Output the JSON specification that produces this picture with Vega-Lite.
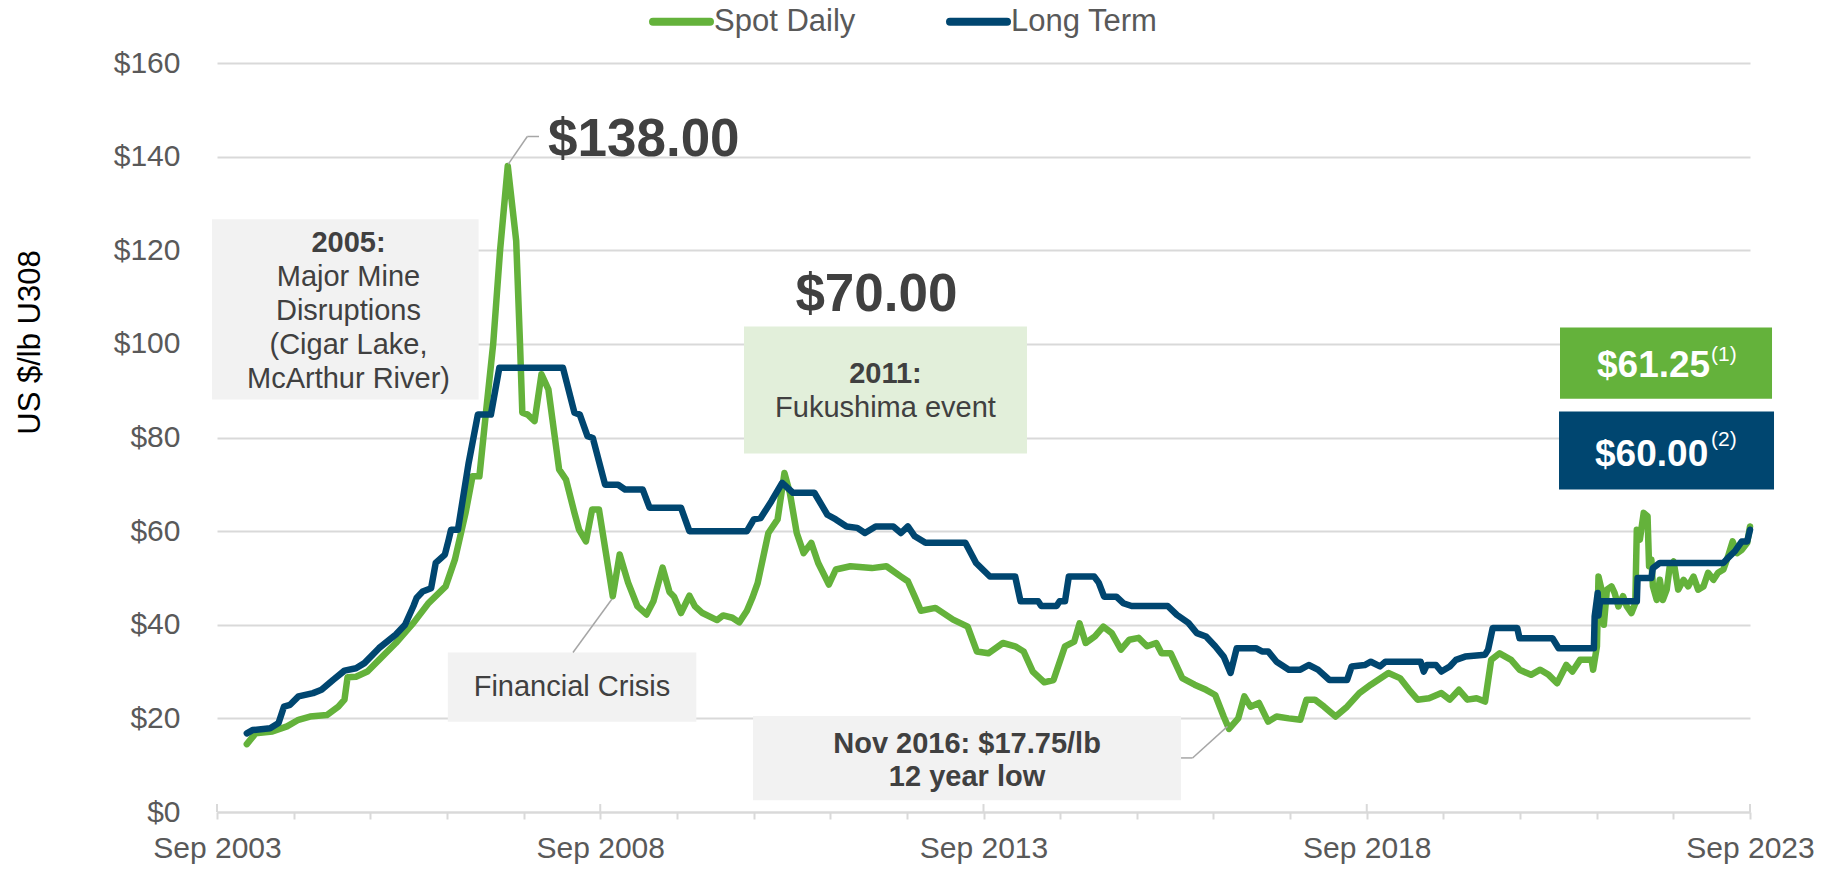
{
"$schema": "https://vega.github.io/schema/vega-lite/v6.json",
"width": 1533, "height": 749,
"autosize": {"type": "none"},
"padding": {"left": 217, "top": 63, "right": 73, "bottom": 57},
"background": "white",
"config": {"view": {"stroke": null}, "font": "Liberation Sans"},
"datasets": {
"prices": [
{"series":"Spot Daily","year":2004.056,"price":14.5},{"series":"Spot Daily","year":2004.17,"price":16.8},{"series":"Spot Daily","year":2004.39,"price":17.2},{"series":"Spot Daily","year":2004.58,"price":18.3},{"series":"Spot Daily","year":2004.73,"price":19.7},{"series":"Spot Daily","year":2004.88,"price":20.4},{"series":"Spot Daily","year":2005.1,"price":20.7},{"series":"Spot Daily","year":2005.25,"price":22.5},{"series":"Spot Daily","year":2005.33,"price":24.0},{"series":"Spot Daily","year":2005.37,"price":28.8},{"series":"Spot Daily","year":2005.48,"price":28.9},{"series":"Spot Daily","year":2005.63,"price":30.0},{"series":"Spot Daily","year":2005.78,"price":32.5},{"series":"Spot Daily","year":2006.0,"price":36.1},{"series":"Spot Daily","year":2006.23,"price":40.4},{"series":"Spot Daily","year":2006.42,"price":44.5},{"series":"Spot Daily","year":2006.65,"price":48.2},{"series":"Spot Daily","year":2006.77,"price":53.9},{"series":"Spot Daily","year":2006.91,"price":63.9},{"series":"Spot Daily","year":2007.0,"price":71.7},{"series":"Spot Daily","year":2007.09,"price":71.7},{"series":"Spot Daily","year":2007.18,"price":86.0},{"series":"Spot Daily","year":2007.27,"price":100.0},{"series":"Spot Daily","year":2007.36,"price":120.0},{"series":"Spot Daily","year":2007.46,"price":138.0},{"series":"Spot Daily","year":2007.57,"price":122.0},{"series":"Spot Daily","year":2007.62,"price":100.0},{"series":"Spot Daily","year":2007.65,"price":85.3},{"series":"Spot Daily","year":2007.72,"price":84.9},{"series":"Spot Daily","year":2007.81,"price":83.5},{"series":"Spot Daily","year":2007.9,"price":93.5},{"series":"Spot Daily","year":2007.99,"price":90.3},{"series":"Spot Daily","year":2008.13,"price":73.2},{"series":"Spot Daily","year":2008.22,"price":71.0},{"series":"Spot Daily","year":2008.33,"price":63.9},{"series":"Spot Daily","year":2008.39,"price":60.3},{"series":"Spot Daily","year":2008.48,"price":57.8},{"series":"Spot Daily","year":2008.56,"price":64.6},{"series":"Spot Daily","year":2008.65,"price":64.6},{"series":"Spot Daily","year":2008.74,"price":55.4},{"series":"Spot Daily","year":2008.83,"price":46.1},{"series":"Spot Daily","year":2008.92,"price":55.0},{"series":"Spot Daily","year":2009.03,"price":49.0},{"series":"Spot Daily","year":2009.15,"price":44.0},{"series":"Spot Daily","year":2009.27,"price":42.2},{"series":"Spot Daily","year":2009.36,"price":45.0},{"series":"Spot Daily","year":2009.48,"price":52.2},{"series":"Spot Daily","year":2009.57,"price":47.0},{"series":"Spot Daily","year":2009.63,"price":46.0},{"series":"Spot Daily","year":2009.72,"price":42.5},{"series":"Spot Daily","year":2009.83,"price":46.2},{"series":"Spot Daily","year":2009.9,"price":44.0},{"series":"Spot Daily","year":2010.0,"price":42.5},{"series":"Spot Daily","year":2010.19,"price":41.0},{"series":"Spot Daily","year":2010.27,"price":42.0},{"series":"Spot Daily","year":2010.39,"price":41.5},{"series":"Spot Daily","year":2010.48,"price":40.5},{"series":"Spot Daily","year":2010.58,"price":43.0},{"series":"Spot Daily","year":2010.65,"price":45.7},{"series":"Spot Daily","year":2010.72,"price":48.9},{"series":"Spot Daily","year":2010.86,"price":59.6},{"series":"Spot Daily","year":2010.98,"price":62.5},{"series":"Spot Daily","year":2011.07,"price":72.4},{"series":"Spot Daily","year":2011.14,"price":68.2},{"series":"Spot Daily","year":2011.23,"price":59.6},{"series":"Spot Daily","year":2011.32,"price":55.3},{"series":"Spot Daily","year":2011.42,"price":57.5},{"series":"Spot Daily","year":2011.51,"price":53.2},{"series":"Spot Daily","year":2011.65,"price":48.6},{"series":"Spot Daily","year":2011.74,"price":51.8},{"series":"Spot Daily","year":2011.93,"price":52.5},{"series":"Spot Daily","year":2012.21,"price":52.1},{"series":"Spot Daily","year":2012.4,"price":52.5},{"series":"Spot Daily","year":2012.59,"price":50.3},{"series":"Spot Daily","year":2012.68,"price":49.3},{"series":"Spot Daily","year":2012.77,"price":46.0},{"series":"Spot Daily","year":2012.85,"price":43.0},{"series":"Spot Daily","year":2013.04,"price":43.6},{"series":"Spot Daily","year":2013.27,"price":41.1},{"series":"Spot Daily","year":2013.46,"price":39.6},{"series":"Spot Daily","year":2013.58,"price":34.3},{"series":"Spot Daily","year":2013.73,"price":33.9},{"series":"Spot Daily","year":2013.92,"price":36.1},{"series":"Spot Daily","year":2014.08,"price":35.4},{"series":"Spot Daily","year":2014.19,"price":34.3},{"series":"Spot Daily","year":2014.31,"price":30.0},{"series":"Spot Daily","year":2014.46,"price":27.7},{"series":"Spot Daily","year":2014.58,"price":28.2},{"series":"Spot Daily","year":2014.73,"price":35.4},{"series":"Spot Daily","year":2014.85,"price":36.4},{"series":"Spot Daily","year":2014.92,"price":40.3},{"series":"Spot Daily","year":2015.0,"price":36.1},{"series":"Spot Daily","year":2015.12,"price":37.5},{"series":"Spot Daily","year":2015.23,"price":39.6},{"series":"Spot Daily","year":2015.34,"price":38.2},{"series":"Spot Daily","year":2015.46,"price":34.7},{"series":"Spot Daily","year":2015.57,"price":36.8},{"series":"Spot Daily","year":2015.69,"price":37.2},{"series":"Spot Daily","year":2015.8,"price":35.4},{"series":"Spot Daily","year":2015.92,"price":36.1},{"series":"Spot Daily","year":2015.99,"price":33.9},{"series":"Spot Daily","year":2016.11,"price":33.9},{"series":"Spot Daily","year":2016.26,"price":28.6},{"series":"Spot Daily","year":2016.42,"price":27.2},{"series":"Spot Daily","year":2016.57,"price":26.1},{"series":"Spot Daily","year":2016.69,"price":25.0},{"series":"Spot Daily","year":2016.8,"price":20.4},{"series":"Spot Daily","year":2016.87,"price":17.75},{"series":"Spot Daily","year":2016.99,"price":20.0},{"series":"Spot Daily","year":2017.07,"price":24.7},{"series":"Spot Daily","year":2017.15,"price":22.5},{"series":"Spot Daily","year":2017.26,"price":23.3},{"series":"Spot Daily","year":2017.38,"price":19.3},{"series":"Spot Daily","year":2017.49,"price":20.4},{"series":"Spot Daily","year":2017.65,"price":20.0},{"series":"Spot Daily","year":2017.8,"price":19.7},{"series":"Spot Daily","year":2017.88,"price":24.0},{"series":"Spot Daily","year":2017.99,"price":24.0},{"series":"Spot Daily","year":2018.11,"price":22.5},{"series":"Spot Daily","year":2018.26,"price":20.4},{"series":"Spot Daily","year":2018.41,"price":22.5},{"series":"Spot Daily","year":2018.57,"price":25.4},{"series":"Spot Daily","year":2018.72,"price":27.2},{"series":"Spot Daily","year":2018.95,"price":29.7},{"series":"Spot Daily","year":2019.1,"price":28.6},{"series":"Spot Daily","year":2019.22,"price":26.1},{"series":"Spot Daily","year":2019.33,"price":24.0},{"series":"Spot Daily","year":2019.48,"price":24.3},{"series":"Spot Daily","year":2019.64,"price":25.4},{"series":"Spot Daily","year":2019.75,"price":24.0},{"series":"Spot Daily","year":2019.87,"price":26.1},{"series":"Spot Daily","year":2019.98,"price":24.0},{"series":"Spot Daily","year":2020.1,"price":24.3},{"series":"Spot Daily","year":2020.21,"price":23.6},{"series":"Spot Daily","year":2020.29,"price":32.5},{"series":"Spot Daily","year":2020.4,"price":33.9},{"series":"Spot Daily","year":2020.55,"price":32.5},{"series":"Spot Daily","year":2020.66,"price":30.4},{"series":"Spot Daily","year":2020.81,"price":29.3},{"series":"Spot Daily","year":2020.93,"price":30.4},{"series":"Spot Daily","year":2021.04,"price":29.3},{"series":"Spot Daily","year":2021.15,"price":27.5},{"series":"Spot Daily","year":2021.27,"price":31.4},{"series":"Spot Daily","year":2021.35,"price":30.0},{"series":"Spot Daily","year":2021.45,"price":32.5},{"series":"Spot Daily","year":2021.6,"price":32.5},{"series":"Spot Daily","year":2021.62,"price":30.4},{"series":"Spot Daily","year":2021.67,"price":35.4},{"series":"Spot Daily","year":2021.69,"price":50.3},{"series":"Spot Daily","year":2021.73,"price":47.5},{"series":"Spot Daily","year":2021.76,"price":40.0},{"series":"Spot Daily","year":2021.8,"price":47.5},{"series":"Spot Daily","year":2021.86,"price":48.2},{"series":"Spot Daily","year":2021.9,"price":46.8},{"series":"Spot Daily","year":2021.95,"price":43.9},{"series":"Spot Daily","year":2022.01,"price":46.1},{"series":"Spot Daily","year":2022.06,"price":43.9},{"series":"Spot Daily","year":2022.12,"price":42.5},{"series":"Spot Daily","year":2022.17,"price":44.6},{"series":"Spot Daily","year":2022.19,"price":60.3},{"series":"Spot Daily","year":2022.23,"price":58.2},{"series":"Spot Daily","year":2022.28,"price":63.9},{"series":"Spot Daily","year":2022.33,"price":63.2},{"series":"Spot Daily","year":2022.35,"price":52.5},{"series":"Spot Daily","year":2022.38,"price":53.9},{"series":"Spot Daily","year":2022.4,"price":48.2},{"series":"Spot Daily","year":2022.45,"price":45.3},{"series":"Spot Daily","year":2022.49,"price":49.6},{"series":"Spot Daily","year":2022.53,"price":45.3},{"series":"Spot Daily","year":2022.58,"price":47.5},{"series":"Spot Daily","year":2022.62,"price":52.5},{"series":"Spot Daily","year":2022.67,"price":53.5},{"series":"Spot Daily","year":2022.73,"price":47.5},{"series":"Spot Daily","year":2022.8,"price":49.6},{"series":"Spot Daily","year":2022.86,"price":48.2},{"series":"Spot Daily","year":2022.93,"price":50.3},{"series":"Spot Daily","year":2022.99,"price":47.5},{"series":"Spot Daily","year":2023.06,"price":48.2},{"series":"Spot Daily","year":2023.12,"price":51.1},{"series":"Spot Daily","year":2023.19,"price":49.6},{"series":"Spot Daily","year":2023.25,"price":51.1},{"series":"Spot Daily","year":2023.32,"price":51.8},{"series":"Spot Daily","year":2023.38,"price":54.6},{"series":"Spot Daily","year":2023.44,"price":57.8},{"series":"Spot Daily","year":2023.5,"price":55.3},{"series":"Spot Daily","year":2023.56,"price":56.0},{"series":"Spot Daily","year":2023.63,"price":57.5},{"series":"Spot Daily","year":2023.667,"price":61.0},
{"series":"Long Term","year":2004.056,"price":16.8},{"series":"Long Term","year":2004.13,"price":17.5},{"series":"Long Term","year":2004.36,"price":17.9},{"series":"Long Term","year":2004.47,"price":19.0},{"series":"Long Term","year":2004.54,"price":22.5},{"series":"Long Term","year":2004.62,"price":22.9},{"series":"Long Term","year":2004.73,"price":24.7},{"series":"Long Term","year":2004.92,"price":25.4},{"series":"Long Term","year":2005.03,"price":26.1},{"series":"Long Term","year":2005.18,"price":28.2},{"series":"Long Term","year":2005.33,"price":30.2},{"series":"Long Term","year":2005.48,"price":30.7},{"series":"Long Term","year":2005.59,"price":31.8},{"series":"Long Term","year":2005.78,"price":35.0},{"series":"Long Term","year":2006.0,"price":37.9},{"series":"Long Term","year":2006.12,"price":40.0},{"series":"Long Term","year":2006.23,"price":44.0},{"series":"Long Term","year":2006.27,"price":45.7},{"series":"Long Term","year":2006.35,"price":47.1},{"series":"Long Term","year":2006.46,"price":47.8},{"series":"Long Term","year":2006.52,"price":53.2},{"series":"Long Term","year":2006.64,"price":55.0},{"series":"Long Term","year":2006.69,"price":58.2},{"series":"Long Term","year":2006.72,"price":60.3},{"series":"Long Term","year":2006.81,"price":60.3},{"series":"Long Term","year":2006.95,"price":74.6},{"series":"Long Term","year":2007.07,"price":84.9},{"series":"Long Term","year":2007.24,"price":84.9},{"series":"Long Term","year":2007.35,"price":94.9},{"series":"Long Term","year":2008.18,"price":94.9},{"series":"Long Term","year":2008.33,"price":85.3},{"series":"Long Term","year":2008.4,"price":84.9},{"series":"Long Term","year":2008.5,"price":80.3},{"series":"Long Term","year":2008.57,"price":79.9},{"series":"Long Term","year":2008.73,"price":69.9},{"series":"Long Term","year":2008.9,"price":69.9},{"series":"Long Term","year":2008.99,"price":68.9},{"series":"Long Term","year":2009.22,"price":68.9},{"series":"Long Term","year":2009.31,"price":65.0},{"series":"Long Term","year":2009.72,"price":65.0},{"series":"Long Term","year":2009.83,"price":60.0},{"series":"Long Term","year":2010.58,"price":60.0},{"series":"Long Term","year":2010.67,"price":62.5},{"series":"Long Term","year":2010.76,"price":62.8},{"series":"Long Term","year":2010.9,"price":66.4},{"series":"Long Term","year":2011.04,"price":70.3},{"series":"Long Term","year":2011.18,"price":68.2},{"series":"Long Term","year":2011.46,"price":68.2},{"series":"Long Term","year":2011.63,"price":63.5},{"series":"Long Term","year":2011.74,"price":62.5},{"series":"Long Term","year":2011.88,"price":61.0},{"series":"Long Term","year":2012.02,"price":60.7},{"series":"Long Term","year":2012.12,"price":59.6},{"series":"Long Term","year":2012.26,"price":61.0},{"series":"Long Term","year":2012.49,"price":61.0},{"series":"Long Term","year":2012.59,"price":59.6},{"series":"Long Term","year":2012.68,"price":61.0},{"series":"Long Term","year":2012.77,"price":58.9},{"series":"Long Term","year":2012.91,"price":57.5},{"series":"Long Term","year":2013.43,"price":57.5},{"series":"Long Term","year":2013.57,"price":53.2},{"series":"Long Term","year":2013.75,"price":50.3},{"series":"Long Term","year":2014.08,"price":50.3},{"series":"Long Term","year":2014.15,"price":45.0},{"series":"Long Term","year":2014.38,"price":45.0},{"series":"Long Term","year":2014.42,"price":44.0},{"series":"Long Term","year":2014.62,"price":44.0},{"series":"Long Term","year":2014.66,"price":45.0},{"series":"Long Term","year":2014.73,"price":45.0},{"series":"Long Term","year":2014.78,"price":50.3},{"series":"Long Term","year":2015.11,"price":50.3},{"series":"Long Term","year":2015.17,"price":49.0},{"series":"Long Term","year":2015.24,"price":46.0},{"series":"Long Term","year":2015.4,"price":46.0},{"series":"Long Term","year":2015.49,"price":44.6},{"series":"Long Term","year":2015.6,"price":44.0},{"series":"Long Term","year":2016.07,"price":44.0},{"series":"Long Term","year":2016.19,"price":42.1},{"series":"Long Term","year":2016.34,"price":40.4},{"series":"Long Term","year":2016.45,"price":38.2},{"series":"Long Term","year":2016.57,"price":37.5},{"series":"Long Term","year":2016.69,"price":35.4},{"series":"Long Term","year":2016.8,"price":33.2},{"series":"Long Term","year":2016.89,"price":29.7},{"series":"Long Term","year":2016.97,"price":35.0},{"series":"Long Term","year":2017.22,"price":35.0},{"series":"Long Term","year":2017.3,"price":34.3},{"series":"Long Term","year":2017.38,"price":34.3},{"series":"Long Term","year":2017.49,"price":32.1},{"series":"Long Term","year":2017.65,"price":30.4},{"series":"Long Term","year":2017.8,"price":30.4},{"series":"Long Term","year":2017.91,"price":31.4},{"series":"Long Term","year":2018.03,"price":30.4},{"series":"Long Term","year":2018.18,"price":28.2},{"series":"Long Term","year":2018.41,"price":28.2},{"series":"Long Term","year":2018.47,"price":31.1},{"series":"Long Term","year":2018.64,"price":31.4},{"series":"Long Term","year":2018.72,"price":32.1},{"series":"Long Term","year":2018.84,"price":31.1},{"series":"Long Term","year":2018.91,"price":32.1},{"series":"Long Term","year":2019.37,"price":32.1},{"series":"Long Term","year":2019.41,"price":30.0},{"series":"Long Term","year":2019.45,"price":31.4},{"series":"Long Term","year":2019.57,"price":31.4},{"series":"Long Term","year":2019.64,"price":30.0},{"series":"Long Term","year":2019.75,"price":31.1},{"series":"Long Term","year":2019.83,"price":32.5},{"series":"Long Term","year":2019.95,"price":33.2},{"series":"Long Term","year":2020.21,"price":33.6},{"series":"Long Term","year":2020.25,"price":34.7},{"series":"Long Term","year":2020.31,"price":39.3},{"series":"Long Term","year":2020.63,"price":39.3},{"series":"Long Term","year":2020.66,"price":37.1},{"series":"Long Term","year":2021.09,"price":37.1},{"series":"Long Term","year":2021.17,"price":35.0},{"series":"Long Term","year":2021.63,"price":35.0},{"series":"Long Term","year":2021.64,"price":41.8},{"series":"Long Term","year":2021.68,"price":46.8},{"series":"Long Term","year":2021.69,"price":42.0},{"series":"Long Term","year":2021.71,"price":45.0},{"series":"Long Term","year":2022.19,"price":45.0},{"series":"Long Term","year":2022.2,"price":50.0},{"series":"Long Term","year":2022.38,"price":50.0},{"series":"Long Term","year":2022.4,"price":52.1},{"series":"Long Term","year":2022.49,"price":53.2},{"series":"Long Term","year":2023.32,"price":53.2},{"series":"Long Term","year":2023.38,"price":54.3},{"series":"Long Term","year":2023.47,"price":55.7},{"series":"Long Term","year":2023.56,"price":57.8},{"series":"Long Term","year":2023.63,"price":57.8},{"series":"Long Term","year":2023.667,"price":60.3}
]
},
"layer": [
{
"data": {"name": "prices"},
"mark": {"type": "line", "strokeWidth": 6.5, "strokeJoin": "round", "strokeCap": "round"},
"encoding": {
"x": {"field": "year", "type": "quantitative",
"scale": {"domain": [2003.6667, 2023.6667], "nice": false, "zero": false},
"axis": {"title": null, "values": [2003.6667,2004.6667,2005.6667,2006.6667,2007.6667,2008.6667,2009.6667,2010.6667,2011.6667,2012.6667,2013.6667,2014.6667,2015.6667,2016.6667,2017.6667,2018.6667,2019.6667,2020.6667,2021.6667,2022.6667,2023.6667],
"labelExpr": "indexof([2003,2008,2013,2018,2023], floor(datum.value)) >= 0 ? 'Sep ' + floor(datum.value) : ''",
"grid": false, "domainColor": "#d9d9d9", "domainWidth": 2, "tickColor": "#d9d9d9", "tickWidth": 2, "tickSize": 7,
"labelFont": "Liberation Sans", "labelFontSize": 30, "labelColor": "#595959", "labelPadding": 14, "labelFlush": false, "labelOverlap": false}},
"y": {"field": "price", "type": "quantitative",
"scale": {"domain": [0, 160], "nice": false},
"axis": {"title": "US $/lb U308", "values": [0,20,40,60,80,100,120,140,160], "labelExpr": "'$' + datum.value",
"domain": false, "ticks": false, "gridColor": "#d9d9d9", "gridWidth": 2,
"labelFont": "Liberation Sans", "labelFontSize": 30, "labelColor": "#595959", "labelPadding": 37,
"titleFont": "Liberation Sans", "titleFontSize": 31, "titleColor": "#000000", "titleFontWeight": "normal",
"titleX": -187, "titleY": 279, "titleBaseline": "middle", "titleAlign": "center", "titleAngle": -90}},
"color": {"field": "series", "type": "nominal",
"scale": {"domain": ["Spot Daily", "Long Term"], "range": ["#64b23b", "#004670"]},
"legend": {"title": null, "orient": "none", "legendX": 432, "legendY": -74, "direction": "horizontal",
"symbolType": "stroke", "symbolStrokeWidth": 8, "symbolSize": 3249, "labelFont": "Liberation Sans", "labelFontSize": 31,
"labelColor": "#595959", "labelOffset": 0, "columnPadding": 78, "padding": 0,
"encode": {"symbols": {"update": {"strokeCap": {"value": "round"}}}}}}
}
},
{"data": {"values": [{}]}, "mark": {"type": "rect", "color": "#f2f2f2"},
"encoding": {"x": {"datum": 2003.602, "type": "quantitative"}, "x2": {"datum": 2007.08}, "y": {"datum": 126.6, "type": "quantitative"}, "y2": {"datum": 88.1}}},
{"data": {"values": [{}]}, "mark": {"type": "rect", "color": "#e2efda"},
"encoding": {"x": {"datum": 2010.542, "type": "quantitative"}, "x2": {"datum": 2014.234}, "y": {"datum": 103.7, "type": "quantitative"}, "y2": {"datum": 76.6}}},
{"data": {"values": [{}]}, "mark": {"type": "rect", "color": "#f2f2f2"},
"encoding": {"x": {"datum": 2006.678, "type": "quantitative"}, "x2": {"datum": 2009.92}, "y": {"datum": 34.07, "type": "quantitative"}, "y2": {"datum": 19.3}}},
{"data": {"values": [{}]}, "mark": {"type": "rect", "color": "#f2f2f2"},
"encoding": {"x": {"datum": 2010.66, "type": "quantitative"}, "x2": {"datum": 2016.244}, "y": {"datum": 20.5, "type": "quantitative"}, "y2": {"datum": 2.5}}},
{"data": {"values": [{}]}, "mark": {"type": "rect", "color": "#64b23b"},
"encoding": {"x": {"datum": 2021.188, "type": "quantitative"}, "x2": {"datum": 2023.954}, "y": {"datum": 103.5, "type": "quantitative"}, "y2": {"datum": 88.3}}},
{"data": {"values": [{}]}, "mark": {"type": "rect", "color": "#004670"},
"encoding": {"x": {"datum": 2021.175, "type": "quantitative"}, "x2": {"datum": 2023.98}, "y": {"datum": 85.56, "type": "quantitative"}, "y2": {"datum": 68.88}}},
{"data": {"values": [{"year": 2003.6667}, {"year": 2008.6667}, {"year": 2013.6667}, {"year": 2018.6667}, {"year": 2023.6667}]},
"mark": {"type": "rule", "color": "#d9d9d9", "strokeWidth": 2},
"encoding": {"x": {"field": "year", "type": "quantitative"}, "y": {"datum": 0, "type": "quantitative"}, "y2": {"datum": 1.7}}},
{"data": {"values": [{}]}, "mark": {"type": "rule", "color": "#a6a6a6", "strokeWidth": 1.5},
"encoding": {"x": {"datum": 2007.467, "type": "quantitative"}, "y": {"datum": 138.4, "type": "quantitative"}, "x2": {"datum": 2007.715}, "y2": {"datum": 144.3}}},
{"data": {"values": [{}]}, "mark": {"type": "rule", "color": "#a6a6a6", "strokeWidth": 1.5},
"encoding": {"x": {"datum": 2007.715, "type": "quantitative"}, "y": {"datum": 144.3, "type": "quantitative"}, "x2": {"datum": 2007.868}, "y2": {"datum": 144.3}}},
{"data": {"values": [{}]}, "mark": {"type": "rule", "color": "#a6a6a6", "strokeWidth": 1.5},
"encoding": {"x": {"datum": 2008.311, "type": "quantitative"}, "y": {"datum": 34.07, "type": "quantitative"}, "x2": {"datum": 2008.82}, "y2": {"datum": 45.5}}},
{"data": {"values": [{}]}, "mark": {"type": "rule", "color": "#a6a6a6", "strokeWidth": 1.5},
"encoding": {"x": {"datum": 2016.244, "type": "quantitative"}, "y": {"datum": 11.55, "type": "quantitative"}, "x2": {"datum": 2016.394}, "y2": {"datum": 11.55}}},
{"data": {"values": [{}]}, "mark": {"type": "rule", "color": "#a6a6a6", "strokeWidth": 1.5},
"encoding": {"x": {"datum": 2016.394, "type": "quantitative"}, "y": {"datum": 11.55, "type": "quantitative"}, "x2": {"datum": 2016.85}, "y2": {"datum": 18.3}}},
{"data": {"values": [{}]}, "mark": {"type": "text", "text": "$138.00", "font": "Liberation Sans", "fontSize": 53, "fontWeight": "bold", "color": "#404040", "align": "left", "baseline": "alphabetic"},
"encoding": {"x": {"datum": 2007.985, "type": "quantitative"}, "y": {"datum": 140.1, "type": "quantitative"}}},
{"data": {"values": [{}]}, "mark": {"type": "text", "text": "$70.00", "font": "Liberation Sans", "fontSize": 53, "fontWeight": "bold", "color": "#404040", "align": "center", "baseline": "alphabetic"},
"encoding": {"x": {"datum": 2012.27, "type": "quantitative"}, "y": {"datum": 107.0, "type": "quantitative"}}},
{"data": {"values": [{}]}, "mark": {"type": "text", "text": "2005:", "font": "Liberation Sans", "fontSize": 29, "fontWeight": "bold", "color": "#404040", "align": "center", "baseline": "middle"},
"encoding": {"x": {"datum": 2005.382, "type": "quantitative"}, "y": {"datum": 121.5, "type": "quantitative"}}},
{"data": {"values": [{}]}, "mark": {"type": "text", "text": ["Major Mine", "Disruptions", "(Cigar Lake,", "McArthur River)"], "lineHeight": 34, "font": "Liberation Sans", "fontSize": 29, "color": "#404040", "align": "center", "baseline": "middle"},
"encoding": {"x": {"datum": 2005.382, "type": "quantitative"}, "y": {"datum": 114.2, "type": "quantitative"}}},
{"data": {"values": [{}]}, "mark": {"type": "text", "text": "2011:", "font": "Liberation Sans", "fontSize": 29, "fontWeight": "bold", "color": "#404040", "align": "center", "baseline": "middle"},
"encoding": {"x": {"datum": 2012.388, "type": "quantitative"}, "y": {"datum": 93.5, "type": "quantitative"}}},
{"data": {"values": [{}]}, "mark": {"type": "text", "text": "Fukushima event", "font": "Liberation Sans", "fontSize": 29, "color": "#404040", "align": "center", "baseline": "middle"},
"encoding": {"x": {"datum": 2012.388, "type": "quantitative"}, "y": {"datum": 86.4, "type": "quantitative"}}},
{"data": {"values": [{}]}, "mark": {"type": "text", "text": "Financial Crisis", "font": "Liberation Sans", "fontSize": 29, "color": "#404040", "align": "center", "baseline": "middle"},
"encoding": {"x": {"datum": 2008.298, "type": "quantitative"}, "y": {"datum": 26.7, "type": "quantitative"}}},
{"data": {"values": [{}]}, "mark": {"type": "text", "text": ["Nov 2016: $17.75/lb", "12 year low"], "lineHeight": 33, "font": "Liberation Sans", "fontSize": 29, "fontWeight": "bold", "color": "#404040", "align": "center", "baseline": "middle"},
"encoding": {"x": {"datum": 2013.452, "type": "quantitative"}, "y": {"datum": 14.55, "type": "quantitative"}}},
{"data": {"values": [{}]}, "mark": {"type": "text", "text": "$61.25", "font": "Liberation Sans", "fontSize": 37, "fontWeight": "bold", "color": "#ffffff", "align": "left", "baseline": "alphabetic"},
"encoding": {"x": {"datum": 2021.671, "type": "quantitative"}, "y": {"datum": 92.83, "type": "quantitative"}}},
{"data": {"values": [{}]}, "mark": {"type": "text", "text": "(1)", "font": "Liberation Sans", "fontSize": 21, "color": "#ffffff", "align": "left", "baseline": "alphabetic"},
"encoding": {"x": {"datum": 2023.158, "type": "quantitative"}, "y": {"datum": 96.3, "type": "quantitative"}}},
{"data": {"values": [{}]}, "mark": {"type": "text", "text": "$60.00", "font": "Liberation Sans", "fontSize": 37, "fontWeight": "bold", "color": "#ffffff", "align": "left", "baseline": "alphabetic"},
"encoding": {"x": {"datum": 2021.645, "type": "quantitative"}, "y": {"datum": 74.0, "type": "quantitative"}}},
{"data": {"values": [{}]}, "mark": {"type": "text", "text": "(2)", "font": "Liberation Sans", "fontSize": 21, "color": "#ffffff", "align": "left", "baseline": "alphabetic"},
"encoding": {"x": {"datum": 2023.158, "type": "quantitative"}, "y": {"datum": 78.1, "type": "quantitative"}}}
]
}
